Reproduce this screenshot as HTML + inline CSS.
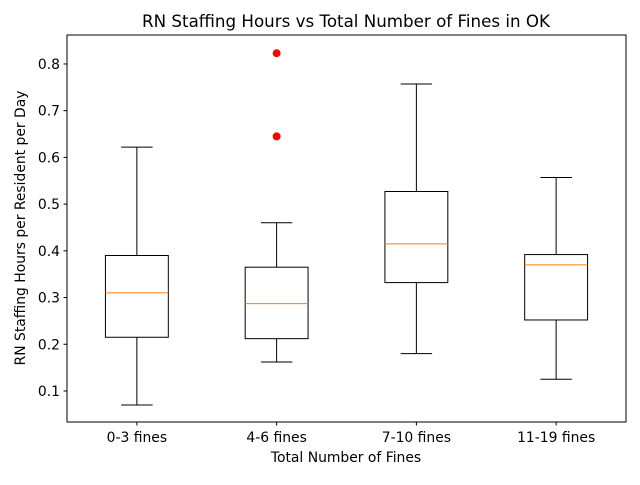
<!DOCTYPE html>
<html><head><meta charset="utf-8"><style>
body{margin:0;background:#fff;font-family:"Liberation Sans","DejaVu Sans",sans-serif;}
svg text{font-family:"DejaVu Sans","Liberation Sans",sans-serif;}
</style></head><body>
<svg id="chart" width="640" height="480" xmlns="http://www.w3.org/2000/svg">
<rect width="640" height="480" fill="#fff"/>
<text x="346" y="27" font-size="16.7" text-anchor="middle">RN Staffing Hours vs Total Number of Fines in OK</text>
<text x="346" y="462" font-size="13.9" text-anchor="middle">Total Number of Fines</text>
<text transform="translate(25,228) rotate(-90)" font-size="13.9" text-anchor="middle">RN Staffing Hours per Resident per Day</text>
<g id="plot"></g>
<rect x="67" y="35" width="559" height="387" fill="none" stroke="#000" stroke-width="1"/>
</svg>
<script>
const categories=["0-3 fines","4-6 fines","7-10 fines","11-19 fines"];
const whiskerLow=[0.07,0.162,0.18,0.125];
const q1=[0.215,0.212,0.332,0.252];
const medians=[0.31,0.287,0.415,0.37];
const q3=[0.39,0.365,0.527,0.392];
const whiskerHigh=[0.622,0.46,0.757,0.557];
const outliers=[[],[0.645,0.823],[],[]];
const yTicks=[0.1,0.2,0.3,0.4,0.5,0.6,0.7,0.8];

const L=67,R=626,T=35,B=422,ymin=0.0336,ymax=0.862;
const y=v=>B-(v-ymin)/(ymax-ymin)*(B-T);
const x=i=>L+(i+0.5)/categories.length*(R-L);
const unit=(R-L)/categories.length;
const g=document.getElementById('plot');
const NS="http://www.w3.org/2000/svg";
function mk(tag,attrs,parent){const e=document.createElementNS(NS,tag);for(const k in attrs)e.setAttribute(k,attrs[k]);(parent||g).appendChild(e);return e;}
yTicks.forEach(t=>{
  const l=mk('line',{x1:L-3.5,x2:L,y1:y(t),y2:y(t),stroke:'#000'});
  
  
  const tx=mk('text',{x:L-7,y:y(t)+5,'font-size':13.9,'text-anchor':'end'});
  tx.textContent=t.toFixed(1);
  
  
});
categories.forEach((c,i)=>{
  const cx=x(i),bw=unit*0.45,cw=bw/2;
  const grp=mk('g',{});
  
  
  mk('line',{x1:cx,x2:cx,y1:y(whiskerLow[i]),y2:y(q1[i]),stroke:'#000'},grp);
  mk('line',{x1:cx,x2:cx,y1:y(q3[i]),y2:y(whiskerHigh[i]),stroke:'#000'},grp);
  mk('line',{x1:cx-cw/2,x2:cx+cw/2,y1:y(whiskerLow[i]),y2:y(whiskerLow[i]),stroke:'#000'},grp);
  mk('line',{x1:cx-cw/2,x2:cx+cw/2,y1:y(whiskerHigh[i]),y2:y(whiskerHigh[i]),stroke:'#000'},grp);
  mk('rect',{x:cx-bw/2,y:y(q3[i]),width:bw,height:y(q1[i])-y(q3[i]),fill:'none',stroke:'#000'},grp);
  mk('line',{x1:cx-bw/2,x2:cx+bw/2,y1:y(medians[i]),y2:y(medians[i]),stroke:'#ff7f0e'},grp);
  outliers[i].forEach(o=>{
    const p=mk('circle',{cx:cx,cy:y(o),r:4,fill:'#ff0000'},grp);
    
    
  });
  mk('line',{x1:cx,x2:cx,y1:B,y2:B+3.5,stroke:'#000'});
  const tx=mk('text',{x:cx,y:B+20,'font-size':13.9,'text-anchor':'middle'});
  tx.textContent=c;
  
  
});
</script>
</body></html>
